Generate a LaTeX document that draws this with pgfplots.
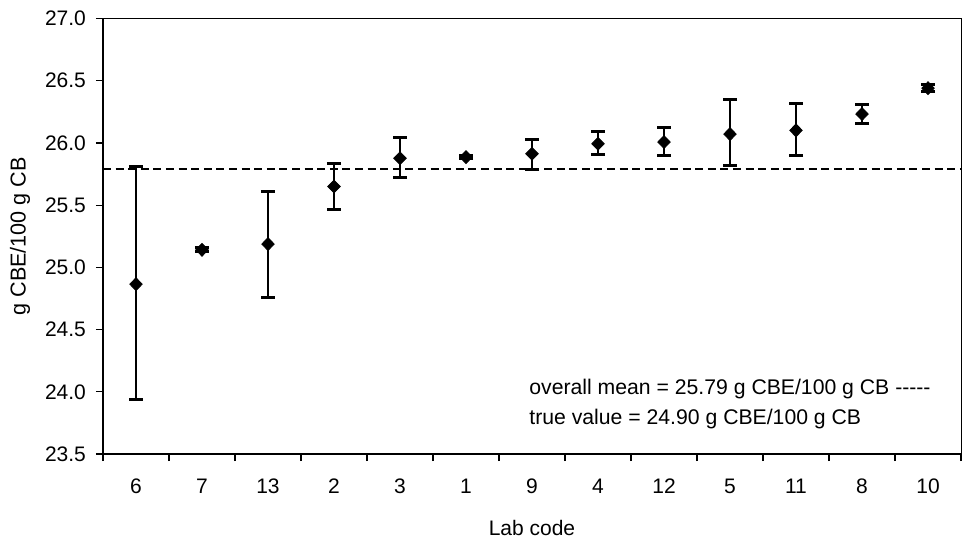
\documentclass[border=0pt]{standalone}
\usepackage{fontspec}
\setmainfont{Liberation Sans}
\usepackage{pgfplots}
\usepackage{pgfplotstable}
\pgfplotsset{compat=1.18}
\pgfplotstableread{
x  y       ep     em
0  24.865  0.943  0.923
1  25.141  0.015  0.015
2  25.187  0.423  0.426
3  25.650  0.187  0.185
4  25.877  0.166  0.152
5  25.886  0.012  0.012
6  25.913  0.118  0.123
7  25.993  0.100  0.085
8  26.007  0.118  0.110
9  26.071  0.279  0.252
10 26.101  0.216  0.204
11 26.232  0.075  0.075
12 26.440  0.030  0.030
}\labdata
\begin{document}
\begin{tikzpicture}
\begin{axis}[
  at={(0,0)}, anchor=south west,
  width=429pt, height=217.75pt, scale only axis,
  xmin=-0.5, xmax=12.5, ymin=23.5, ymax=27.0,
  xtick={-0.5,0.5,1.5,2.5,3.5,4.5,5.5,6.5,7.5,8.5,9.5,10.5,11.5,12.5},
  x tick label as interval,
  xticklabels={6,7,13,2,3,1,9,4,12,5,11,8,10},
  ytick={23.5,24.0,24.5,25.0,25.5,26.0,26.5,27.0},
  xtick pos=bottom, ytick pos=left,
  tick align=outside, major tick length=3.5pt,
  tick style={black, line width=0.6pt},
  /pgf/number format/fixed, /pgf/number format/fixed zerofill,
  /pgf/number format/precision=1, /pgf/number format/assume math mode=true,
  yticklabel style={xshift=-1.5pt},
  xticklabel style={anchor=base, yshift=-16pt},
  ticklabel style={font=\fontsize{10.5}{12}\selectfont},
  axis line style={line width=0.5pt},
  xlabel={Lab code},
  xlabel style={font=\fontsize{10.5}{12}\selectfont, at={(axis description cs:0.5,-0.186)}, anchor=base},
  ylabel={g CBE/100 g CB},
  ylabel style={font=\fontsize{10.8}{12}\selectfont, at={(axis description cs:-0.0967,0.5)}, anchor=center},
  clip=false,
]
\addplot[black, line width=0.85pt, dash pattern=on 4pt off 2.3pt, forget plot] coordinates {(-0.5,25.79) (12.5,25.79)};
\addplot[black, only marks, mark=diamond*, mark size=3.2pt, mark options={xscale=1.3},
  error bars/.cd, y dir=both, y explicit,
  error bar style={line width=1pt, black},
  error mark options={rotate=90, line width=1.5pt, mark size=3.5pt, black}]
  table[x=x, y=y, y error plus=ep, y error minus=em] {\labdata};
\draw[line width=1pt] (rel axis cs:0,1) -- (rel axis cs:0,0) -- (rel axis cs:1,0);
\node[anchor=base west, font=\fontsize{10.6}{12}\selectfont, inner sep=0pt] at (rel axis cs:0.4965,0.1355) {overall mean = 25.79 g CBE/100 g CB {-}{-}{-}{-}{-}};
\node[anchor=base west, font=\fontsize{10.6}{12}\selectfont, inner sep=0pt] at (rel axis cs:0.4965,0.0689) {true value = 24.90 g CBE/100 g CB};
\end{axis}
\pgfresetboundingbox
\path[use as bounding box] (-51.5pt,-49pt) rectangle (433pt,227pt);
\end{tikzpicture}
\end{document}
